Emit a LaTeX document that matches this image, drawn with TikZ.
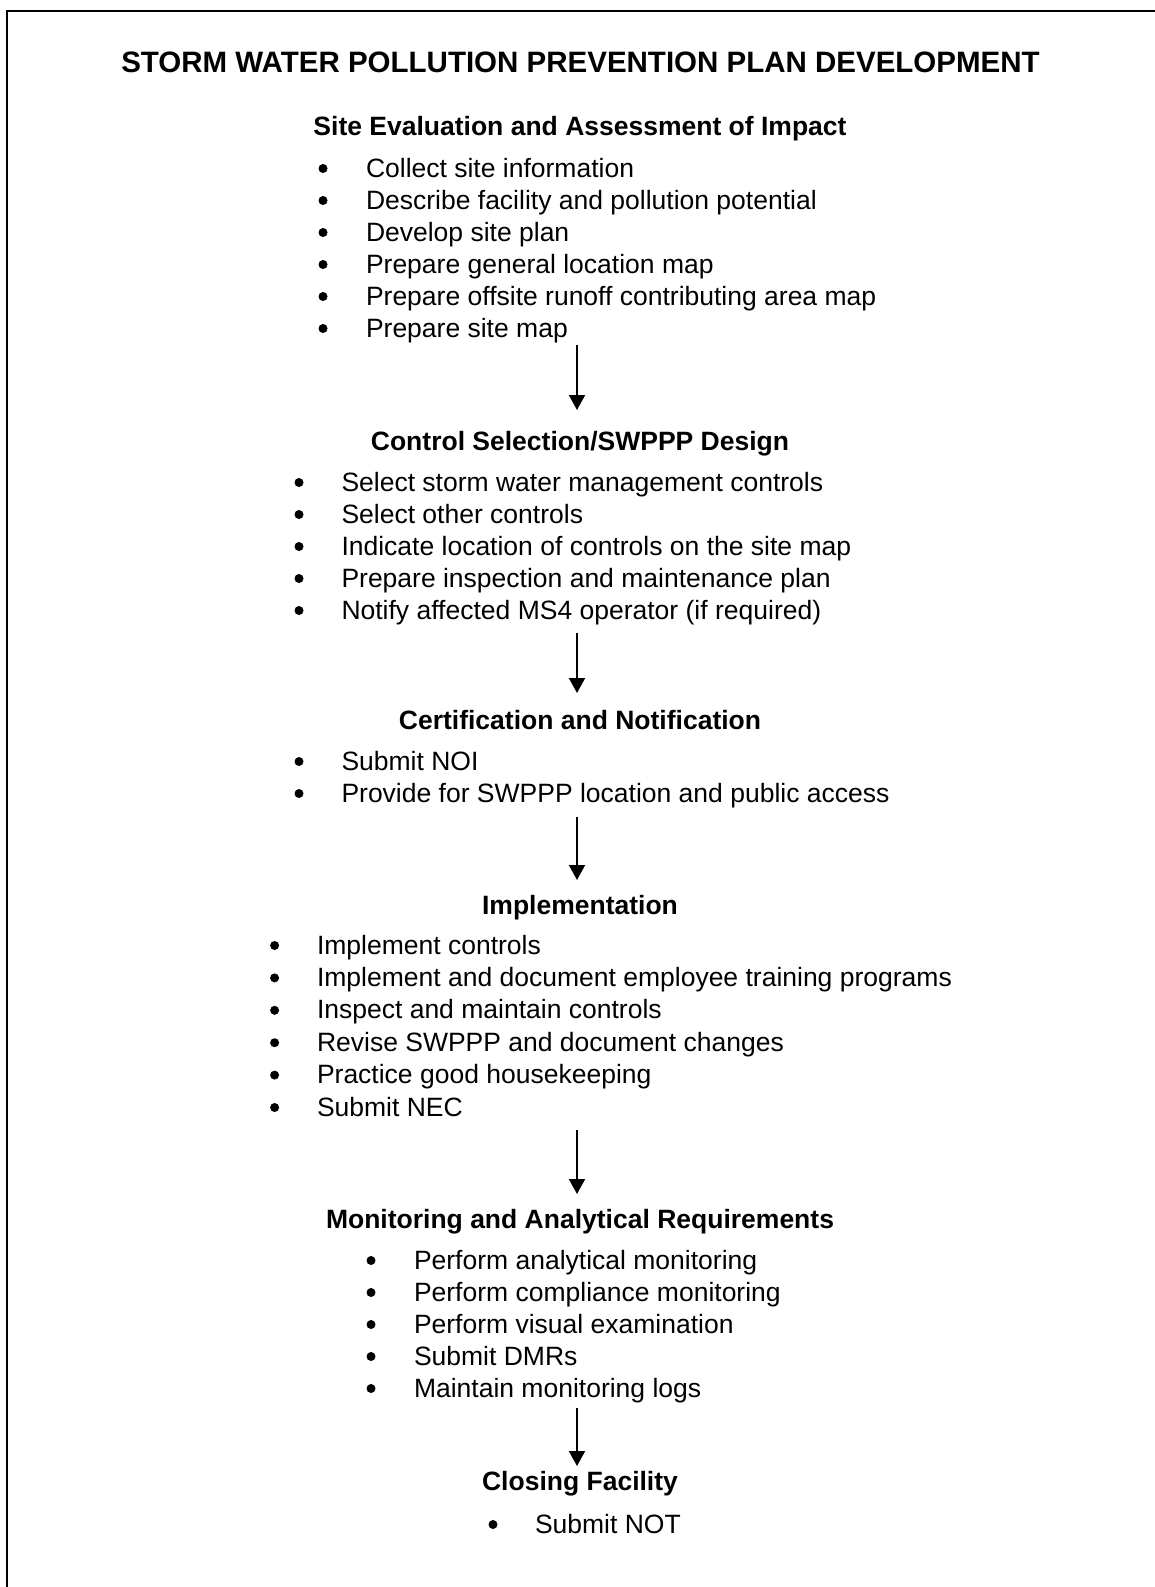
\documentclass[tikz,border=0pt]{standalone}
\usepackage{fontspec}
\setmainfont{Liberation Sans}
\usetikzlibrary{arrows.meta}
\begin{document}
\begin{tikzpicture}[x=1pt,y=-1pt,
  every node/.style={inner sep=0pt,outer sep=0pt},
  titletext/.style={anchor=base,font=\fontsize{29.5}{32}\selectfont\bfseries},
  headtext/.style={anchor=base,font=\fontsize{26.5}{32}\selectfont\bfseries},
  itemtext/.style={anchor=base west,font=\fontsize{26.5}{32}\selectfont},
  bulletmark/.style={circle,fill=black,minimum size=9pt,yshift=8.5pt},
  flowarrow/.style={line width=2pt,-{Triangle[length=15pt,width=16pt]}},
  frameline/.style={line width=2pt,line cap=rect}]
\useasboundingbox (0,0) rectangle (1155,1587);
% frame (only top and left edges fall inside the picture)
\coordinate (ftr) at (1155,11);
\coordinate (ftl) at (7,11);
\coordinate (fbl) at (7,1587);
\draw[frameline] (ftr) -- (ftl) -- (fbl);
% title
\node[titletext] (title) at (580.5,72) {STORM WATER POLLUTION PREVENTION PLAN DEVELOPMENT};
% Site evaluation
\node[headtext] (h1) at (580,135) {Site Evaluation and Assessment of Impact};
\foreach \t [count=\i, evaluate=\i as \yy using 177+32*(\i-1)] in
  {Collect site information,Describe facility and pollution potential,Develop site plan,Prepare general location map,Prepare offsite runoff contributing area map,Prepare site map}
  {\node[bulletmark] (b1\i) at (323,\yy) {};
   \node[itemtext] (t1\i) at (366,\yy) {\t};}
\coordinate (a1s) at (577,345);
\coordinate (a1e) at (577,410);
\draw[flowarrow] (a1s) -- (a1e);
% Control selection
\node[headtext] (h2) at (580,450) {Control Selection/SWPPP Design};
\foreach \t [count=\i, evaluate=\i as \yy using 491+32*(\i-1)] in
  {Select storm water management controls,Select other controls,Indicate location of controls on the site map,Prepare inspection and maintenance plan,Notify affected MS4 operator (if required)}
  {\node[bulletmark] (b2\i) at (299,\yy) {};
   \node[itemtext] (t2\i) at (341.5,\yy) {\t};}
\coordinate (a2s) at (577,633);
\coordinate (a2e) at (577,693);
\draw[flowarrow] (a2s) -- (a2e);
% Certification
\node[headtext] (h3) at (580,729) {Certification and Notification};
\foreach \t [count=\i, evaluate=\i as \yy using 770+32*(\i-1)] in
  {Submit NOI,Provide for SWPPP location and public access}
  {\node[bulletmark] (b3\i) at (299,\yy) {};
   \node[itemtext] (t3\i) at (341.5,\yy) {\t};}
\coordinate (a3s) at (577,817);
\coordinate (a3e) at (577,880);
\draw[flowarrow] (a3s) -- (a3e);
% Implementation
\node[headtext] (h4) at (580,914) {Implementation};
\foreach \t [count=\i, evaluate=\i as \yy using 954+32.4*(\i-1)] in
  {Implement controls,Implement and document employee training programs,Inspect and maintain controls,Revise SWPPP and document changes,Practice good housekeeping,Submit NEC}
  {\node[bulletmark] (b4\i) at (274.6,\yy) {};
   \node[itemtext] (t4\i) at (317,\yy) {\t};}
\coordinate (a4s) at (577,1130);
\coordinate (a4e) at (577,1194);
\draw[flowarrow] (a4s) -- (a4e);
% Monitoring
\node[headtext] (h5) at (580,1228) {Monitoring and Analytical Requirements};
\foreach \t [count=\i, evaluate=\i as \yy using 1269+32*(\i-1)] in
  {Perform analytical monitoring,Perform compliance monitoring,Perform visual examination,Submit DMRs,Maintain monitoring logs}
  {\node[bulletmark] (b5\i) at (371,\yy) {};
   \node[itemtext] (t5\i) at (414,\yy) {\t};}
\coordinate (a5s) at (577,1408);
\coordinate (a5e) at (577,1466);
\draw[flowarrow] (a5s) -- (a5e);
% Closing
\node[headtext] (h6) at (580,1490) {Closing Facility};
\node[bulletmark] (b61) at (493,1533) {};
\node[itemtext] (t61) at (535,1533) {Submit NOT};
\end{tikzpicture}
\end{document}
